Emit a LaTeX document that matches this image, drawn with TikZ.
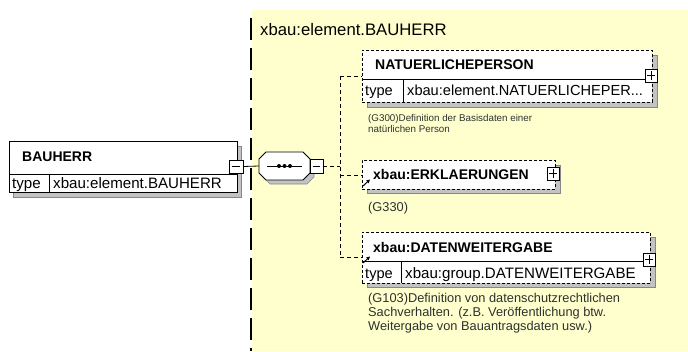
\documentclass[tikz,border=0pt]{standalone}
\usepackage{fontspec}
\setmainfont{Liberation Sans}
\usetikzlibrary{arrows.meta}
\definecolor{bgyellow}{RGB}{255,255,206}
\definecolor{shadowgray}{RGB}{195,195,195}
\definecolor{shadowedge}{RGB}{135,135,135}
\definecolor{desctext}{RGB}{45,50,45}
\tikzset{
  box/.style={draw=black, fill=white, line width=0.8pt},
  optbox/.style={draw=black, fill=white, line width=0.8pt, dash pattern=on 3pt off 2pt},
  shadowbox/.style={draw=shadowedge, fill=shadowgray, line width=0.6pt},
  rule/.style={draw=black, line width=0.8pt},
  conn/.style={draw=black, line width=0.8pt},
  optconn/.style={draw=black, line width=0.8pt, dash pattern=on 4pt off 3pt},
  namefont/.style={font=\fontsize{14}{16}\selectfont\bfseries, text=black},
  typefont/.style={font=\fontsize{14.6}{17}\selectfont, text=black},
  typebig/.style={font=\fontsize{15.1}{17}\selectfont, text=black},
  titlefont/.style={font=\fontsize{16.7}{18}\selectfont, text=black},
  descsmall/.style={font=\fontsize{9.8}{11}\selectfont, text=desctext},
  descfont/.style={font=\fontsize{12.8}{14}\selectfont, text=desctext},
  txt/.style={inner sep=0pt, anchor=base west},
  pmbox/.style={draw=black, fill=white, line width=0.8pt, minimum width=12pt, minimum height=13pt, inner sep=0pt},
}
\begin{document}
\begin{tikzpicture}[x=1pt,y=-1pt]
\useasboundingbox (0,0) rectangle (688,351);
\fill[white] (0,0) rectangle (688,351);
\fill[bgyellow] (252,10) rectangle (688,351);
% long dashed vertical line
\draw[line width=1.3pt, dash pattern=on 22pt off 8pt] (251,18) -- (251,351);
\node[txt, titlefont] (title) at (260,35) {xbau:element.BAUHERR};

% ---- BAUHERR ----
\draw[shadowbox] (13,146) rectangle (241,197);
\node[box, anchor=north west, minimum width=228pt, minimum height=51pt, inner sep=0pt] (bauherr) at (9,141) {};
\draw[rule] (9,174) -- (237,174);
\draw[rule] (49,174) -- (49,192);
\node[txt, namefont] (bauherrname) at (22,161) {BAUHERR};
\node[txt, typebig] (bauherrtype) at (12,188) {type};
\node[txt, typebig] (bauherrval) at (53,188) {xbau:element.BAUHERR};
\node[pmbox, minimum width=14pt] (m1) at (236,166.5) {};
\draw[rule] ([xshift=3pt]m1.west) -- ([xshift=-3pt]m1.east);

% ---- sequence compositor ----
\fill[shadowgray, draw=shadowedge, line width=0.6pt] (270,156) -- (307,156) -- (314,163) -- (314,177) -- (307,184) -- (270,184) -- (263,177) -- (263,163) -- cycle;
\draw[box] (266,152) -- (303,152) -- (310,159) -- (310,173) -- (303,180) -- (266,180) -- (259,173) -- (259,159) -- cycle;
\coordinate (seqw) at (259,166);
\coordinate (seqe) at (310,166);
\draw[rule] (267,166) -- (302,166);
\foreach \dx in {279,284.5,290} \fill (\dx,166) circle (2pt);
\node[pmbox, minimum width=13pt, minimum height=14pt] (m2) at (316.5,166) {};
\draw[rule] ([xshift=3pt]m2.west) -- ([xshift=-3pt]m2.east);
\draw[conn] (m1.east) -- (seqw);

% branching connectors
\coordinate (branch) at (340,166);
\coordinate (btop) at (340,76);
\coordinate (bbot) at (340,257);
\draw[optconn] (m2.east) -- (branch);
\draw[optconn] (btop) -- (bbot);

% ---- NATUERLICHEPERSON ----
\draw[shadowbox] (367,55) rectangle (657,107);
\node[optbox, anchor=north west, minimum width=290pt, minimum height=52pt, inner sep=0pt] (nat) at (362,50) {};
\draw[rule] (362,79) -- (652,79);
\draw[rule] (403,79) -- (403,102);
\node[txt, namefont] (natname) at (375,69) {NATUERLICHEPERSON};
\node[txt, typefont] (nattype) at (365,95) {type};
\node[txt, typefont] (natval) at (407,95) {xbau:element.NATUERLICHEPER...};
\node[pmbox] (p1) at (651,75.5) {};
\draw[rule] ([xshift=2.5pt]p1.west) -- ([xshift=-2.5pt]p1.east);
\draw[rule] ([yshift=-2.5pt]p1.north) -- ([yshift=2.5pt]p1.south);
\node[txt, descsmall] (natdesc1) at (368,121) {(G300)Definition der Basisdaten einer};
\node[txt, descsmall] (natdesc2) at (368,132) {natürlichen Person};
\draw[optconn] (btop) -- (btop -| nat.west);

% ---- ERKLAERUNGEN ----
\draw[shadowbox] (367,165) rectangle (560,193);
\node[optbox, anchor=north west, minimum width=193pt, minimum height=29pt, inner sep=0pt] (erk) at (362,160) {};
\node[txt, namefont] (erkname) at (373,179) {xbau:ERKLAERUNGEN};
\node[pmbox] (p2) at (553,173.5) {};
\draw[rule] ([xshift=2.5pt]p2.west) -- ([xshift=-2.5pt]p2.east);
\draw[rule] ([yshift=-2.5pt]p2.north) -- ([yshift=2.5pt]p2.south);
\draw[line width=1pt, -{Triangle[length=3.5pt,width=3.5pt]}] (363,186) -- (370,179.5);
\node[txt, descfont] (erkdesc) at (368,211) {(G330)};
\draw[optconn] (340,175) -- (erk.west |- 340,175);

% ---- DATENWEITERGABE ----
\draw[shadowbox] (367,237) rectangle (655,287);
\node[optbox, anchor=north west, minimum width=288pt, minimum height=51pt, inner sep=0pt] (dat) at (362,232) {};
\draw[rule] (362,261) -- (650,261);
\draw[rule] (401,261) -- (401,283);
\node[txt, namefont] (datname) at (373,252) {xbau:DATENWEITERGABE};
\node[txt, typefont] (dattype) at (365,278) {type};
\node[txt, typebig] (datval) at (405,278) {xbau:group.DATENWEITERGABE};
\node[pmbox] (p3) at (649,259.5) {};
\draw[rule] ([xshift=2.5pt]p3.west) -- ([xshift=-2.5pt]p3.east);
\draw[rule] ([yshift=-2.5pt]p3.north) -- ([yshift=2.5pt]p3.south);
\draw[line width=1pt, -{Triangle[length=3.5pt,width=3.5pt]}] (363,263) -- (370,256.5);
\node[txt, descfont] (datdesc1) at (368,302) {(G103)Definition von datenschutzrechtlichen};
\node[txt, descfont] (datdesc2) at (368,316) {Sachverhalten. (z.B. Veröffentlichung btw.};
\node[txt, descfont] (datdesc3) at (368,330) {Weitergabe von Bauantragsdaten usw.)};
\draw[optconn] (bbot) -- (bbot -| dat.west);
\end{tikzpicture}
\end{document}
